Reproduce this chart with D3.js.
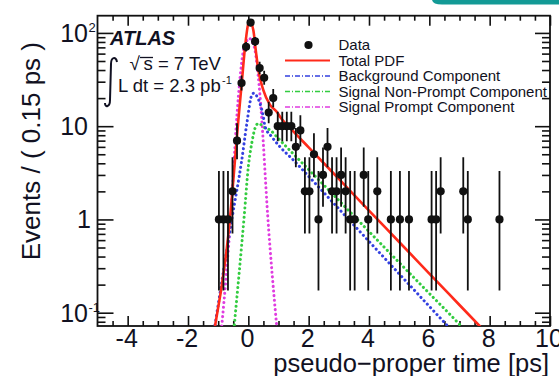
<!DOCTYPE html>
<html>
<head>
<meta charset="utf-8">
<script src="https://cdn.jsdelivr.net/npm/d3@7"></script>
<style>
  body { margin: 0; background: #fff; }
  text { font-family: "Liberation Sans", Arial, Helvetica, sans-serif; fill: #111122; }
</style>
</head>
<body>
<svg id="chart" width="559" height="376"></svg>
<script>
// Binned pseudo-proper time distribution (bin width 0.15 ps)
const binTimes = [-0.975, -0.825, -0.675, -0.525, -0.375, -0.225, -0.075, 0.075,
  0.225, 0.375, 0.525, 0.675, 0.825, 0.975, 1.125, 1.275, 1.425, 1.575,
  1.725, 1.875, 2.025, 2.175, 2.325, 2.475, 2.625, 2.775, 2.925, 3.075,
  3.225, 3.375, 3.525, 3.825, 3.975, 4.275, 4.725, 5.025, 5.325, 6.075,
  6.225, 6.375, 7.125, 7.275, 8.325];
const binCounts = [1, 1, 1, 2, 7, 29, 71, 129,
  81, 42, 33, 14, 20, 10, 10, 10, 10, 6,
  9, 2, 2, 5, 1, 3, 6, 2, 2, 3,
  2, 1, 1, 3, 1, 2, 1, 1, 1, 1,
  1, 2, 2, 1, 1];

// Fitted PDF curves: [time (ps), events per bin]
const totalPdf = [[-1.104, 0.072], [-0.607, 1.03], [-0.497, 2.65], [-0.331, 11.6],
  [-0.219, 28.8], [-0.109, 71], [0, 127], [0.04, 135], [0.166, 107], [0.245, 65.6],
  [0.331, 40], [0.497, 24.4], [0.719, 16.9], [0.941, 14.3], [1.051, 12.6],
  [1.5, 8.73], [2, 5.93], [3, 2.72], [4, 1.245], [5, 0.573], [6, 0.263],
  [7, 0.121], [7.8, 0.065]];
const background = [[-1.104, 0.074], [-0.55, 0.99], [-0.219, 4.3], [-0.053, 10.5],
  [0.113, 21.5], [0.17, 22.5], [0.331, 19.5], [0.497, 12.6], [0.553, 9.9],
  [0.776, 7.7], [1.051, 6.0], [1.5, 4.31], [2, 2.9], [3, 1.3], [4, 0.582],
  [5, 0.261], [6, 0.117], [6.7, 0.067]];
const nonPrompt = [[-0.464, 0.074], [-0.133, 1.12], [0, 3.68], [0.113, 6.56],
  [0.222, 9.5], [0.331, 10.7], [0.553, 9.6], [0.719, 9.1], [1, 7.35],
  [1.5, 5.01], [2, 3.43], [3, 1.6], [4, 0.742], [5, 0.345], [6, 0.161],
  [7, 0.075], [7.2, 0.064]];
const prompt = [[-0.88, 0.072], [-0.58, 1.12], [-0.38, 12.6], [-0.33, 20.7],
  [-0.27, 34], [-0.16, 65.6], [-0.07, 80], [0.03, 87.5], [0.13, 80],
  [0.22, 65.6], [0.33, 34], [0.39, 20.7], [0.44, 12.6], [0.64, 1.12],
  [0.94, 0.072]];

// Axis ticks and labels
const xMajorTicks = [-4, -2, 0, 2, 4, 6, 8, 10];
const yMajorTicks = [0.1, 1, 10, 100];
const yTickBase = ["10", "1", "10", "10"];
const yTickExp = ["-1", "", "", "2"];

// 68% Poisson intervals for small counts
const poissonLow = {1: 0.173, 2: 0.708, 3: 1.367, 5: 2.840, 6: 3.620, 7: 4.419, 9: 6.057, 10: 6.891};
const poissonHigh = {1: 3.300, 2: 4.638, 3: 5.918, 5: 8.382, 6: 9.584, 7: 10.77, 9: 13.11, 10: 14.27};

const legendItems = [
  {label: "Data", kind: "dot"},
  {label: "Total PDF", kind: "line", color: "#ff2a1a", dash: null},
  {label: "Background Component", kind: "line", color: "#3340e0", dash: "5 2 1 2"},
  {label: "Signal Non-Prompt Component", kind: "line", color: "#33cc40", dash: "5 2 1 2"},
  {label: "Signal Prompt Component", kind: "line", color: "#e03ce0", dash: "5 2 1 2"}
];

const svg = d3.select("#chart");
const plotLeft = 97.5, plotRight = 550, plotTop = 15.7, plotBottom = 326;

const x = d3.scaleLinear().domain([-5, 10]).range([plotLeft, plotRight]);
const y = d3.scaleLog().domain([0.072, 153]).range([plotBottom, plotTop]);

// corner decoration
svg.append("path")
  .attr("d", "M432,0 H559 V4.5 H442 Q433,4.5 432,0 Z")
  .attr("fill", "#139a96");

svg.append("clipPath").attr("id", "plotArea")
  .append("rect").attr("x", plotLeft).attr("y", plotTop)
  .attr("width", plotRight - plotLeft).attr("height", plotBottom - plotTop);

// ticks
const xMinor = d3.range(-5, 10.001, 0.5).filter(v => v > -5 && v < 10 && !xMajorTicks.includes(v));
const yMinor = [];
[0.01, 0.1, 1, 10, 100].forEach(d => {
  for (let m = 2; m <= 9; m++) {
    const v = m * d;
    if (v > y.domain()[0] && v < y.domain()[1]) yMinor.push(v);
  }
});

function tidy(g) {
  g.select(".domain").remove();
  g.selectAll(".tick line").attr("stroke", "#111").attr("stroke-width", 1.6);
}

svg.append("g").attr("transform", `translate(0,${plotBottom})`)
  .call(d3.axisBottom(x).tickValues(xMajorTicks).tickSize(-10).tickPadding(3)
    .tickFormat(d => String(d)))
  .call(tidy)
  .call(g => g.selectAll("text").attr("font-size", 25).attr("dx", -1.5)
    .attr("font-family", "'Liberation Sans', Arial, sans-serif").attr("fill", "#111122"));
svg.append("g").attr("transform", `translate(0,${plotBottom})`)
  .call(d3.axisBottom(x).tickValues(xMinor).tickSize(-5).tickFormat(""))
  .call(tidy);
svg.append("g").attr("transform", `translate(0,${plotTop})`)
  .call(d3.axisTop(x).tickValues(xMajorTicks).tickSize(-10).tickFormat(""))
  .call(tidy);
svg.append("g").attr("transform", `translate(0,${plotTop})`)
  .call(d3.axisTop(x).tickValues(xMinor).tickSize(-5).tickFormat(""))
  .call(tidy);
svg.append("g").attr("transform", `translate(${plotLeft},0)`)
  .call(d3.axisLeft(y).tickValues(yMajorTicks).tickSize(-16).tickFormat(""))
  .call(tidy);
svg.append("g").attr("transform", `translate(${plotLeft},0)`)
  .call(d3.axisLeft(y).tickValues(yMinor).tickSize(-8).tickFormat(""))
  .call(tidy);
svg.append("g").attr("transform", `translate(${plotRight},0)`)
  .call(d3.axisRight(y).tickValues(yMajorTicks).tickSize(-15).tickFormat(""))
  .call(tidy);
svg.append("g").attr("transform", `translate(${plotRight},0)`)
  .call(d3.axisRight(y).tickValues(yMinor).tickSize(-8).tickFormat(""))
  .call(tidy);

// y tick labels with exponents
yMajorTicks.forEach((v, i) => {
  const base = yTickBase[i];
  svg.append("text").attr("x", base === "1" ? 91 : 88).attr("y", y(v) + 9)
    .attr("text-anchor", "end").attr("font-size", 25).text(base);
  if (yTickExp[i]) {
    svg.append("text").attr("x", 88.5).attr("y", y(v) - 1)
      .attr("font-size", 13).text(yTickExp[i]);
  }
});

// frame
svg.append("rect").attr("x", plotLeft).attr("y", plotTop)
  .attr("width", plotRight - plotLeft).attr("height", plotBottom - plotTop)
  .attr("fill", "none").attr("stroke", "#111").attr("stroke-width", 1.8);

// fitted curves
const line = d3.line().x(d => x(d[0])).y(d => y(d[1])).curve(d3.curveMonotoneX);
const curves = svg.append("g").attr("clip-path", "url(#plotArea)");
const dotted = [
  {data: prompt, color: "#e03ce0"},
  {data: nonPrompt, color: "#33cc40"},
  {data: background, color: "#3340e0"}
];
dotted.forEach(c => {
  curves.append("path").attr("d", line(c.data)).attr("fill", "none")
    .attr("stroke", c.color).attr("stroke-width", 3)
    .attr("stroke-linecap", "round").attr("stroke-dasharray", "0.1 4.6");
});
curves.append("path").attr("d", line(totalPdf)).attr("fill", "none")
  .attr("stroke", "#ff2a1a").attr("stroke-width", 2.6);

// data points with Poisson error bars
const points = binTimes.map((t, i) => {
  const n = binCounts[i];
  const lo = n <= 10 ? poissonLow[n] : n - Math.sqrt(n + 0.25) + 0.5;
  const hi = n <= 10 ? poissonHigh[n] : n + Math.sqrt(n + 0.25) + 0.5;
  return {t, n, lo, hi};
});
const dataG = svg.append("g").attr("clip-path", "url(#plotArea)");
dataG.selectAll("line.err").data(points).join("line").attr("class", "err")
  .attr("x1", d => x(d.t)).attr("x2", d => x(d.t))
  .attr("y1", d => y(d.lo)).attr("y2", d => y(d.hi))
  .attr("stroke", "#111").attr("stroke-width", 1.8);
dataG.selectAll("circle").data(points).join("circle")
  .attr("cx", d => x(d.t)).attr("cy", d => y(d.n)).attr("r", 4.1)
  .attr("fill", "#111");

// experiment labels
svg.append("text").attr("x", 110).attr("y", 45)
  .attr("font-size", 20).attr("font-weight", "bold").attr("font-style", "italic")
  .text("ATLAS");
svg.append("text").attr("x", 129.5).attr("y", 70).attr("font-size", 19).text("\u221A");
svg.append("line").attr("x1", 140).attr("x2", 153).attr("y1", 57.5).attr("y2", 57.5)
  .attr("stroke", "#111122").attr("stroke-width", 1.3);
svg.append("text").attr("x", 143.5).attr("y", 70).attr("font-size", 18.5).text("s = 7 TeV");
svg.append("path")
  .attr("d", "M117,62 C116,56 111,57 111,64 L110,100 C110,107 105,108 105,103")
  .attr("fill", "none").attr("stroke", "#111122").attr("stroke-width", 2);
svg.append("text").attr("x", 118).attr("y", 92).attr("font-size", 18.5).text("L dt = 2.3 pb");
svg.append("text").attr("x", 222).attr("y", 84).attr("font-size", 11).text("-1");

// legend
const rowY = [45, 60.5, 76, 91.5, 107];
legendItems.forEach((item, i) => {
  const yy = rowY[i];
  if (item.kind === "dot") {
    svg.append("circle").attr("cx", 308.5).attr("cy", yy).attr("r", 4.1).attr("fill", "#111");
  } else {
    const l = svg.append("line").attr("x1", 285).attr("x2", 330).attr("y1", yy).attr("y2", yy)
      .attr("stroke", item.color).attr("stroke-width", item.dash ? 1.4 : 1.8);
    if (item.dash) l.attr("stroke-dasharray", item.dash);
  }
  svg.append("text").attr("x", 338.5).attr("y", yy + 5.4).attr("font-size", 15).text(item.label);
});

// axis titles
svg.append("text").attr("x", 549).attr("y", 371.5).attr("text-anchor", "end")
  .attr("font-size", 25.5).text("pseudo\u2212proper time [ps]");
svg.append("text").attr("transform", "translate(40,42) rotate(-90)")
  .attr("text-anchor", "end").attr("font-size", 26).text("Events / ( 0.15 ps )");
</script>
</body>
</html>
